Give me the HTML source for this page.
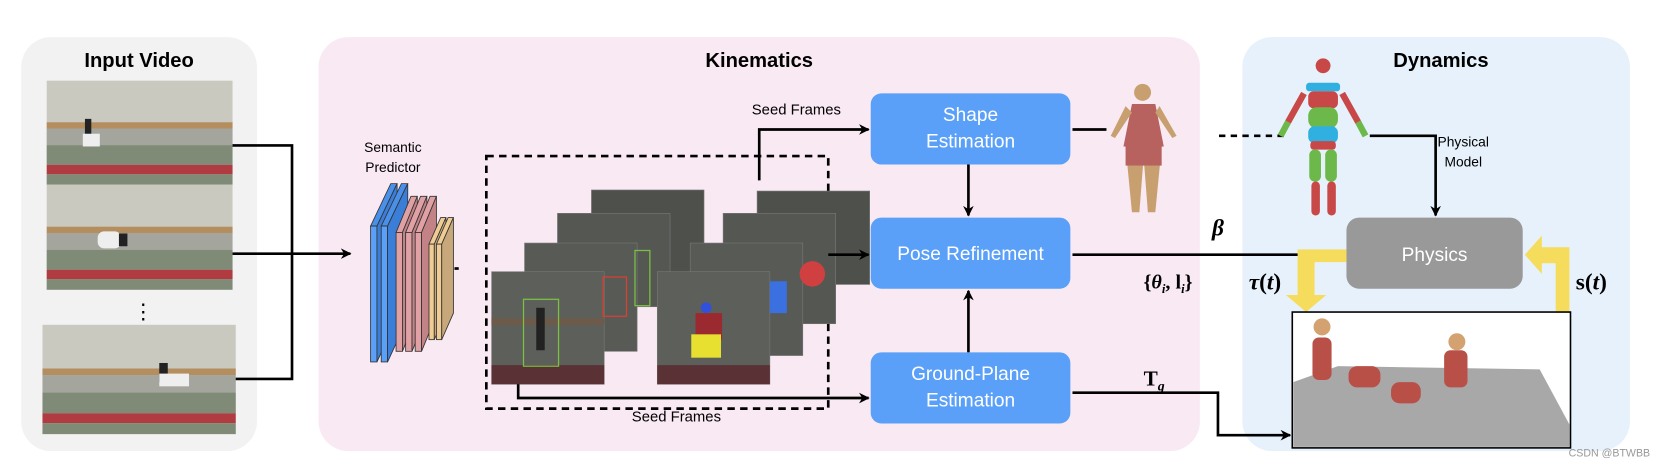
<!DOCTYPE html>
<html><head><meta charset="utf-8"><style>body{margin:0;background:#fff}svg{display:block}</style></head><body>
<svg width="1665" height="467" viewBox="0 0 1568 440" preserveAspectRatio="none" xmlns="http://www.w3.org/2000/svg" font-family="Liberation Sans, sans-serif">
<defs>
<marker id="a" markerWidth="10" markerHeight="10" refX="9" refY="5" orient="auto" markerUnits="userSpaceOnUse"><path d="M0,0 L10,5 L0,10 L3,5 z" fill="#000"/></marker>
<g id="vf">
<rect x="0" y="0" width="100" height="100" fill="#c9c9c0"/>
<rect x="0" y="40" width="100" height="6" fill="#b48e5e"/>
<rect x="0" y="46" width="100" height="16" fill="#a4a69e"/>
<rect x="0" y="62" width="100" height="19" fill="#7f8b77"/>
<rect x="0" y="81" width="100" height="9" fill="#b03c42"/>
<rect x="0" y="90" width="100" height="10" fill="#7f8b77"/>
</g>
</defs>
<rect x="20" y="35" width="222" height="390" rx="28" fill="#f2f2f2"/>
<rect x="300" y="35" width="830" height="390" rx="28" fill="#f9e9f3"/>
<rect x="1170" y="35" width="365" height="390" rx="28" fill="#e7f1fb"/>
<g font-weight="bold" font-size="19" text-anchor="middle">
<text x="131" y="63">Input Video</text><text x="715" y="63">Kinematics</text><text x="1357" y="63">Dynamics</text></g>
<!-- video frames -->
<use href="#vf" transform="translate(44,76) scale(1.75,0.98)"/>
<use href="#vf" transform="translate(44,174) scale(1.75,0.99)"/>
<use href="#vf" transform="translate(40,306) scale(1.82,1.03)"/>
<rect x="80" y="112" width="6" height="20" fill="#222"/><rect x="78" y="126" width="16" height="12" fill="#eee"/>
<rect x="92" y="218" width="22" height="16" rx="6" fill="#eee"/><rect x="112" y="220" width="8" height="12" fill="#222"/>
<rect x="150" y="342" width="8" height="18" fill="#222"/><rect x="150" y="352" width="28" height="12" fill="#eee"/>
<text x="135" y="300" font-size="20" text-anchor="middle">⋮</text>
<g stroke="#000" stroke-width="2.5" fill="none">
<path d="M219,137 H275 V357 H222"/><path d="M219,239 H330" marker-end="url(#a)"/>
</g>
<!-- semantic predictor -->
<text x="370" y="143" font-size="13" text-anchor="middle">Semantic</text><text x="370" y="162" font-size="13" text-anchor="middle">Predictor</text>
<g stroke="#333" stroke-width="0.8">
<path d="M349,213 L368,173 L374,173 L355,213z" fill="#4a8fe8"/><rect x="349" y="213" width="6" height="128" fill="#5aa0f8"/><path d="M355,341 L374,300 L374,173 L355,213z" fill="#3a7ed8"/>
<path d="M359,213 L378,173 L384,173 L365,213z" fill="#4a8fe8"/><rect x="359" y="213" width="6" height="128" fill="#5aa0f8"/><path d="M365,341 L384,300 L384,173 L365,213z" fill="#3a7ed8"/>
<g fill="#e0a0a4"><path d="M373,219 L387,185 L393,185 L379,219z"/><rect x="373" y="219" width="6" height="112"/><path d="M379,331 L393,297 L393,185 L379,219z" fill="#c28286"/>
<path d="M382,219 L396,185 L402,185 L388,219z"/><rect x="382" y="219" width="6" height="112"/><path d="M388,331 L402,297 L402,185 L388,219z" fill="#c28286"/>
<path d="M391,219 L405,185 L411,185 L397,219z"/><rect x="391" y="219" width="6" height="112"/><path d="M397,331 L411,297 L411,185 L397,219z" fill="#c28286"/></g>
<g fill="#f0cc94"><path d="M404,230 L415,205 L420,205 L409,230z"/><rect x="404" y="230" width="5" height="90"/><path d="M409,320 L420,295 L420,205 L409,230z" fill="#c8a87a"/>
<path d="M411,230 L422,205 L427,205 L416,230z"/><rect x="411" y="230" width="5" height="90"/><path d="M416,320 L427,295 L427,205 L416,230z" fill="#c8a87a"/></g>
</g>
<path d="M428,253 H432" stroke="#000" stroke-width="2.5"/>
<rect x="458" y="147" width="322" height="238" fill="none" stroke="#000" stroke-width="2.5" stroke-dasharray="7,5"/>
<!-- frame stacks -->
<g stroke="#777" stroke-width="0.6">
<rect x="557" y="179" width="106" height="88" fill="#4e504c"/><rect x="525" y="201" width="106" height="88" fill="#555753"/><rect x="494" y="229" width="106" height="102" fill="#585a56"/><rect x="463" y="256" width="106" height="106" fill="#5d5f5a"/>
<rect x="713" y="180" width="106" height="88" fill="#4e504c"/><rect x="681" y="201" width="106" height="104" fill="#555753"/><rect x="650" y="229" width="106" height="106" fill="#585a56"/><rect x="619" y="256" width="106" height="106" fill="#5d5f5a"/>
</g>
<rect x="463" y="344" width="106" height="18" fill="#5a3236"/><rect x="619" y="344" width="106" height="18" fill="#5a3236"/>
<rect x="463" y="300" width="106" height="6" fill="#6e5a48"/>
<rect x="493" y="282" width="33" height="63" fill="none" stroke="#7ac043" stroke-width="1.2"/>
<rect x="568" y="261" width="22" height="37" fill="none" stroke="#d84030" stroke-width="1.2"/>
<rect x="598" y="236" width="14" height="52" fill="none" stroke="#7ac043" stroke-width="1.2"/>
<rect x="505" y="290" width="8" height="40" fill="#222"/>
<rect x="655" y="295" width="25" height="25" fill="#9a2a30"/><rect x="651" y="315" width="28" height="22" fill="#e8e030"/><circle cx="665" cy="290" r="5" fill="#3050e0"/>
<rect x="725" y="265" width="16" height="30" fill="#3a70e0"/><circle cx="765" cy="258" r="12" fill="#d04040"/>
<g stroke="#000" stroke-width="2.5" fill="none">
<path d="M715,170 V122 H818" marker-end="url(#a)"/>
<path d="M488,362 V375 H818" marker-end="url(#a)"/>
<path d="M780,240 H818" marker-end="url(#a)"/>
<path d="M912,155 V203" marker-end="url(#a)"/>
<path d="M912,332 V274" marker-end="url(#a)"/>
<path d="M1010,122 H1042"/>
<path d="M1148,128 H1210" stroke-dasharray="6,5"/>
<path d="M1290,128 H1352 V203" marker-end="url(#a)"/>
<path d="M1010,240 H1265" marker-end="url(#a)"/>
<path d="M1010,370 H1147 V410 H1215" marker-end="url(#a)"/>
</g>
<text x="750" y="108" font-size="14" text-anchor="middle">Seed Frames</text>
<text x="637" y="397" font-size="14" text-anchor="middle">Seed Frames</text>
<g fill="#5aa0f8"><rect x="820" y="88" width="188" height="67" rx="10"/><rect x="820" y="205" width="188" height="67" rx="10"/><rect x="820" y="332" width="188" height="67" rx="10"/></g>
<g fill="#fff" font-size="18" text-anchor="middle">
<text x="914" y="114">Shape</text><text x="914" y="139">Estimation</text>
<text x="914" y="245">Pose Refinement</text>
<text x="914" y="358">Ground-Plane</text><text x="914" y="383">Estimation</text></g>
<!-- human -->
<g><circle cx="1076" cy="87" r="8" fill="#c8a070"/><path d="M1066,98 h22 l8,40 h-38z" fill="#b86260"/><path d="M1060,100 L1046,128 L1050,130 L1066,106z M1092,100 L1108,128 L1104,130 L1088,106z" fill="#c8a070"/><path d="M1060,138 h34 l-6,62 h-7 l-4,-52 l-4,52 h-7z" fill="#c8a070"/><rect x="1060" y="138" width="34" height="18" fill="#b86260"/></g>
<text x="1147" y="222" font-size="22" font-family="Liberation Serif, serif" font-weight="bold" font-style="italic" text-anchor="middle">β</text>
<text x="1100" y="272" font-size="19" font-family="Liberation Serif, serif" font-weight="bold" text-anchor="middle">{<tspan font-style="italic">θ</tspan><tspan font-size="12" dy="4" font-style="italic">i</tspan><tspan dy="-4">, l</tspan><tspan font-size="12" dy="4" font-style="italic">i</tspan><tspan dy="-4">}</tspan></text>
<text x="1077" y="363" font-size="20" font-family="Liberation Serif, serif" font-weight="bold">T<tspan font-size="13" dy="5" font-style="italic">g</tspan></text>
<!-- skeleton -->
<g><circle cx="1246" cy="62" r="7" fill="#c84848"/><rect x="1230" y="78" width="32" height="8" rx="3" fill="#30b0e0"/><rect x="1232" y="86" width="28" height="16" rx="5" fill="#c84848"/><rect x="1232" y="101" width="28" height="20" rx="8" fill="#6cb84a"/><rect x="1232" y="119" width="28" height="16" rx="6" fill="#30b0e0"/><rect x="1234" y="133" width="24" height="8" rx="3" fill="#c84848"/><rect x="1233" y="141" width="11" height="30" rx="5" fill="#6cb84a"/><rect x="1248" y="141" width="11" height="30" rx="5" fill="#6cb84a"/><rect x="1235" y="171" width="8" height="32" rx="4" fill="#c84848"/><rect x="1250" y="171" width="8" height="32" rx="4" fill="#c84848"/>
<path d="M1228,88 L1213,115 M1264,88 L1279,115" stroke="#c84848" stroke-width="6"/><path d="M1213,115 L1206,128 M1279,115 L1286,128" stroke="#6cb84a" stroke-width="6"/></g>
<text x="1378" y="138" font-size="13" text-anchor="middle">Physical</text><text x="1378" y="157" font-size="13" text-anchor="middle">Model</text>
<rect x="1268" y="205" width="166" height="67" rx="12" fill="#999"/>
<text x="1351" y="246" fill="#fff" font-size="18" text-anchor="middle">Physics</text>
<!-- yellow arrows -->
<g fill="#f6dc5c">
<path d="M1268,235 H1222 V278 H1211 L1230,294 L1249,278 H1238 V247 H1268z"/>
<path d="M1465,294 V248 H1452 V258 L1436,240 L1452,222 V233 H1478 V294z"/>
</g>
<text x="1176" y="273" font-size="22" font-family="Liberation Serif, serif" font-weight="bold"><tspan font-style="italic">τ</tspan>(<tspan font-style="italic">t</tspan>)</text>
<text x="1484" y="273" font-size="22" font-family="Liberation Serif, serif" font-weight="bold">s(<tspan font-style="italic">t</tspan>)</text>
<rect x="1217" y="294" width="262" height="128" fill="#fff" stroke="#000" stroke-width="1.5"/>
<path d="M1218,421 L1218,360 L1260,345 L1450,348 L1478,400 V421z" fill="#a8a8a8"/>
<g fill="#b85048"><rect x="1236" y="318" width="18" height="40" rx="6"/><rect x="1270" y="345" width="30" height="20" rx="8"/><rect x="1310" y="360" width="28" height="20" rx="8"/><rect x="1360" y="330" width="22" height="35" rx="6"/></g>
<g fill="#d4a270"><circle cx="1245" cy="308" r="8"/><circle cx="1372" cy="322" r="8"/></g>
<text x="1554" y="430" font-size="10" fill="#999" text-anchor="end">CSDN @BTWBB</text>
</svg>
</body></html>
